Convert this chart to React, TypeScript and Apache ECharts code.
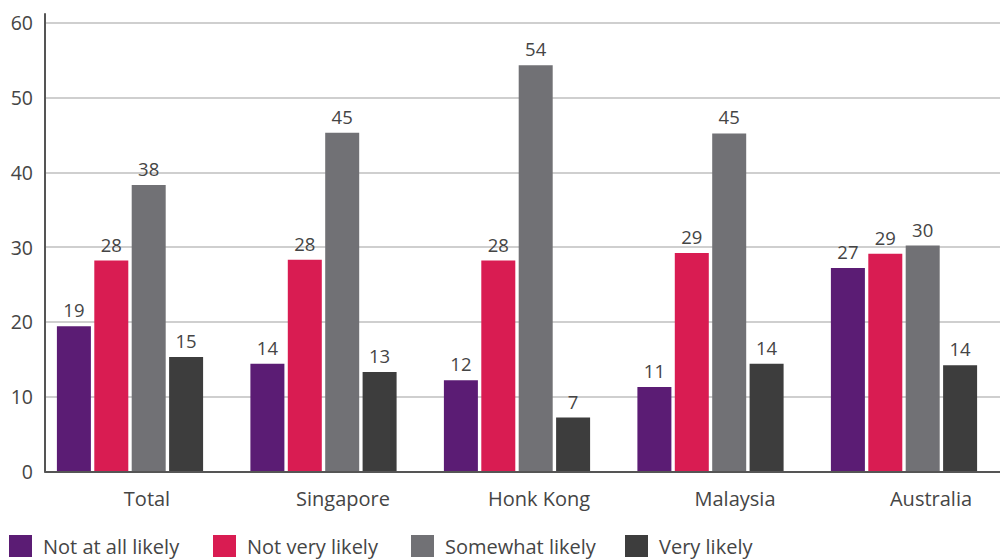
import React, { useEffect, useRef } from "react";
import * as echarts from "echarts";

const categories = ["Total", "Singapore", "Honk Kong", "Malaysia", "Australia"];
const seriesNames = ["Not at all likely", "Not very likely", "Somewhat likely", "Very likely"];
const notAtAll = [19.4, 14.4, 12.2, 11.3, 27.2];
const notVery = [28.2, 28.3, 28.2, 29.2, 29.1];
const somewhat = [38.3, 45.3, 54.3, 45.2, 30.2];
const very = [15.3, 13.3, 7.2, 14.4, 14.2];
const colors = ["#5b1c74", "#d91c52", "#717175", "#3d3d3d"];
const yTicks = { min: 0, max: 60, interval: 10 };

const FONT = "Open Sans";
const TXT = "#454545";

export default function App() {
  const ref = useRef<HTMLDivElement>(null);
  useEffect(() => {
    document.body.style.margin = "0";
    const chart = echarts.init(ref.current!, null, { renderer: "svg" });
    const values = [notAtAll, notVery, somewhat, very];
    const top = 22.7;
    const bottom = 87.6;
    const legendLefts = [9, 213, 411, 625];
    chart.setOption({
      animation: false,
      grid: [
        { left: 33.25, width: 967.5, top, bottom, outerBoundsMode: "none", containLabel: false },
        { left: 45, width: 980, top, bottom, outerBoundsMode: "none", containLabel: false },
        { left: 45, width: 955, top: 14, bottom, outerBoundsMode: "none", containLabel: false },
      ],
      xAxis: [
        { type: "category", gridIndex: 0, data: categories, show: false },
        {
          type: "category",
          gridIndex: 1,
          data: categories,
          axisLine: { show: true, lineStyle: { color: "#555", width: 2 } },
          axisTick: { show: false },
          axisLabel: {
            fontFamily: FONT,
            fontSize: 20,
            color: TXT,
            margin: 17,
            padding: [0, 0, 0, 8],
          },
          z: 5,
        },
        { type: "category", gridIndex: 2, data: categories, show: false },
      ],
      yAxis: [
        { type: "value", gridIndex: 0, ...yTicks, show: false },
        {
          type: "value",
          gridIndex: 1,
          ...yTicks,
          axisLine: { show: false },
          axisTick: { show: false },
          axisLabel: { fontFamily: FONT, fontSize: 19.5, color: TXT, margin: 12 },
          splitLine: { show: true, lineStyle: { color: "#cfcfcf", width: 2 } },
        },
        {
          type: "value",
          gridIndex: 2,
          min: 0,
          max: 1,
          axisLine: { show: true, lineStyle: { color: "#555", width: 2 } },
          axisTick: { show: false },
          axisLabel: { show: false },
          splitLine: { show: false },
          z: 5,
        },
      ],
      legend: seriesNames.map((n, i) => ({
        left: legendLefts[i],
        top: 535,
        data: [n],
        icon: "rect",
        itemWidth: 23,
        itemHeight: 22,
        selectedMode: false,
        padding: 0,
        textStyle: { fontFamily: FONT, fontSize: 20, color: TXT, padding: [0, 0, 0, 6] },
      })),
      series: seriesNames.map((n, i) => ({
        name: n,
        type: "bar",
        xAxisIndex: 0,
        yAxisIndex: 0,
        data: values[i],
        barWidth: 34,
        barGap: "10%",
        itemStyle: { color: colors[i] },
        label: {
          show: true,
          position: "top",
          distance: 7,
          fontFamily: FONT,
          fontSize: 18.5,
          color: TXT,
          formatter: (p: any) => String(Math.round(p.value)),
        },
      })),
    });
    return () => chart.dispose();
  }, []);
  return <div ref={ref} style={{ width: 1000, height: 559 }} />;
}
